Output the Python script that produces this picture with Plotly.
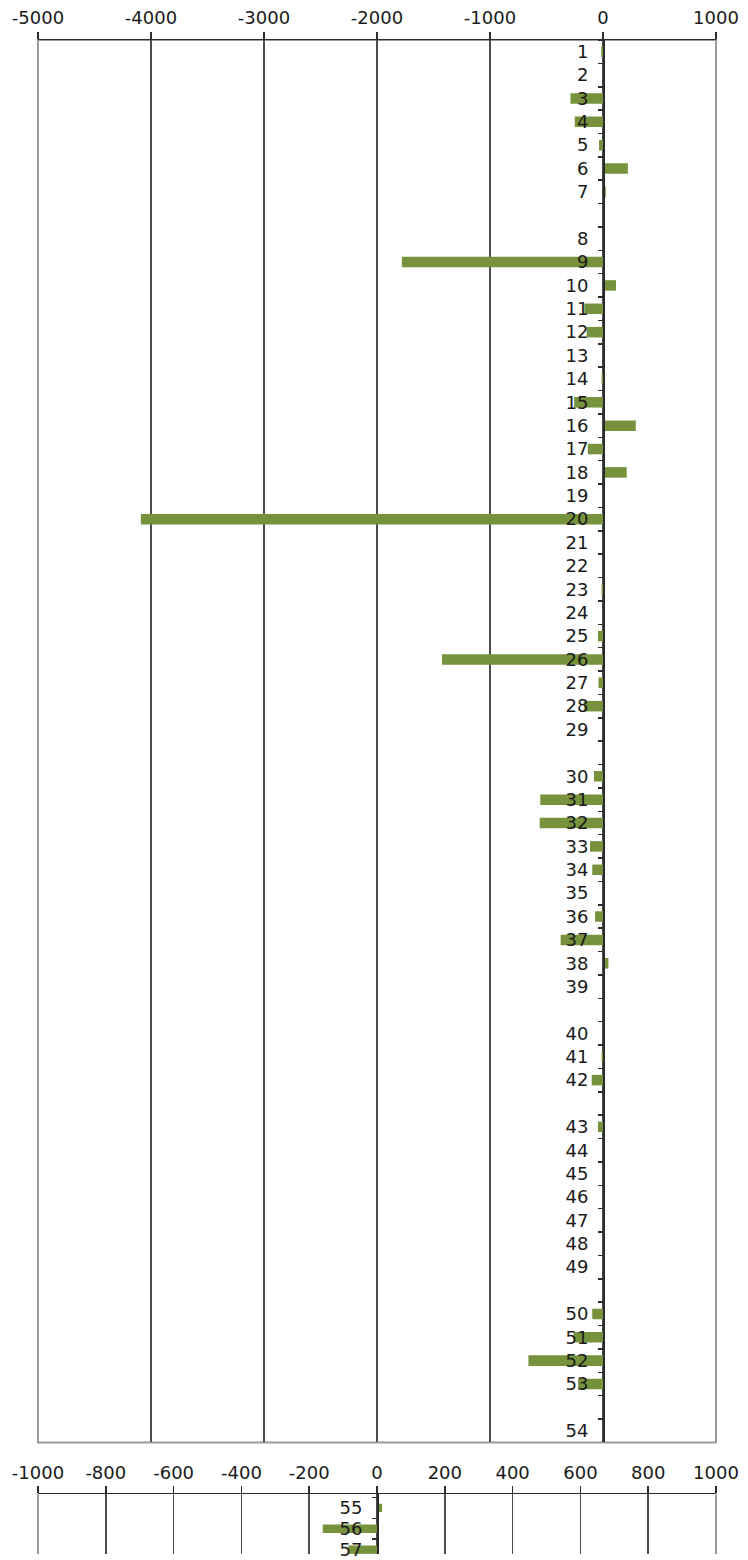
import plotly.graph_objects as go

# ---------------- data ----------------
# top panel categories (blank strings = empty gap rows)
top_labels = ["1", "2", "3", "4", "5", "6", "7", "",
              "8", "9", "10", "11", "12", "13", "14", "15", "16", "17", "18", "19",
              "20", "21", "22", "23", "24", "25", "26", "27", "28", "29", "",
              "30", "31", "32", "33", "34", "35", "36", "37", "38", "39", "",
              "40", "41", "42", "",
              "43", "44", "45", "46", "47", "48", "49", "",
              "50", "51", "52", "53", "",
              "54"]
top_values = [-15, 0, -288, -250, -35, 220, 25, None,
              0, -1780, 115, -165, -145, 0, -12, -255, 290, -135, 210, 0,
              -4090, 0, 0, -12, 0, -45, -1425, -40, -170, 0, None,
              -80, -555, -560, -115, -95, 0, -70, -375, 48, 0, None,
              0, -12, -100, None,
              -45, 0, 0, 0, 0, 0, 0, None,
              -95, -260, -660, -220, None,
              0]
top_ticks = [-5000, -4000, -3000, -2000, -1000, 0, 1000]
top_tick_text = ["-5000", "-4000", "-3000", "-2000", "-1000", "0", "1000"]

# bottom panel
bottom_labels = ["55", "56", "57"]
bottom_values = [15, -160, -85]
bottom_ticks = [-1000, -800, -600, -400, -200, 0, 200, 400, 600, 800, 1000]
bottom_tick_text = ["-1000", "-800", "-600", "-400", "-200", "0",
                    "200", "400", "600", "800", "1000"]

# ---------------- styling ----------------
BAR = "#76923C"
GRID = "#4d4d4d"
AXIS = "#2b2b2b"
BORDER = "#9a9a9a"
TXT = "#1a1a1a"

# unique keys for blank gap rows
top_keys = []
blank_n = 0
for lab in top_labels:
    if lab == "":
        blank_n += 1
        top_keys.append(" " * blank_n)
    else:
        top_keys.append(lab)

W, H = 748, 1560
ML, MR, MT, MB = 38, 32, 40, 0
plot_h = H - MT - MB


def py(page_y):
    return 1 - (page_y - MT) / plot_h


fig = go.Figure()
fig.add_trace(go.Bar(x=top_values, y=top_keys, orientation="h",
                     xaxis="x", yaxis="y", width=0.45,
                     marker=dict(color=BAR, line=dict(width=0))))
fig.add_trace(go.Bar(x=bottom_values, y=bottom_labels, orientation="h",
                     xaxis="x2", yaxis="y2", width=0.4,
                     marker=dict(color=BAR, line=dict(width=0))))

xcommon = dict(side="top", ticks="outside", ticklen=7, tickwidth=1.5,
               tickcolor=AXIS, showline=True, linecolor=AXIS, linewidth=1.5,
               showgrid=True, gridcolor=GRID, gridwidth=1.5, zeroline=False,
               tickfont=dict(size=18, color=TXT), fixedrange=True)
ycommon = dict(type="category", categoryorder="array", tickson="boundaries",
               tickmode="linear", tick0=0, dtick=1,
               ticks="outside", ticklen=5, tickwidth=1.5, tickcolor=AXIS,
               showline=True, linecolor=AXIS, linewidth=1.5, showgrid=False,
               zeroline=False, side="left", ticklabelstandoff=11,
               tickfont=dict(size=18, color=TXT), fixedrange=True)

top_range = [-5000, 1000]
bot_range = [-1000, 1000]

fig.update_layout(
    width=W, height=H,
    margin=dict(l=ML, r=MR, t=MT, b=MB),
    paper_bgcolor="white", plot_bgcolor="white",
    showlegend=False,
    font=dict(family="DejaVu Sans", color=TXT),
    xaxis=dict(domain=[0, 1], anchor="y", range=top_range,
               tickvals=top_ticks, ticktext=top_tick_text, **xcommon),
    yaxis=dict(domain=[py(1448), 1], anchor="free",
               position=(0 - top_range[0]) / (top_range[1] - top_range[0]),
               categoryarray=top_keys,
               range=[len(top_keys) - 0.5, -0.5], **ycommon),
    xaxis2=dict(domain=[0, 1], anchor="y2", range=bot_range,
                tickvals=bottom_ticks, ticktext=bottom_tick_text, **xcommon),
    yaxis2=dict(domain=[0, py(1500)], anchor="free",
                position=(0 - bot_range[0]) / (bot_range[1] - bot_range[0]),
                categoryarray=bottom_labels,
                range=[-0.65 + 60 / 21, -0.65], **ycommon),
    shapes=[
        dict(type="rect", xref="x domain", yref="y domain", x0=0, x1=1, y0=0, y1=1,
             line=dict(color=BORDER, width=2), layer="below"),
        dict(type="line", xref="x2 domain", yref="y2 domain", x0=0, x1=0, y0=0, y1=1,
             line=dict(color=BORDER, width=2), layer="below"),
        dict(type="line", xref="x2 domain", yref="y2 domain", x0=1, x1=1, y0=0, y1=1,
             line=dict(color=BORDER, width=2), layer="below"),
    ],
)

fig.write_html(
    "out.html",
    config={"displayModeBar": False, "staticPlot": True},
    post_script=(
        "document.documentElement.style.margin='0';"
        "document.documentElement.style.height='1560px';"
        "document.documentElement.style.overflow='hidden';"
        "document.body.style.margin='0';"
        "document.body.style.height='1560px';"
        "document.body.style.overflow='hidden';"
    ),
)
